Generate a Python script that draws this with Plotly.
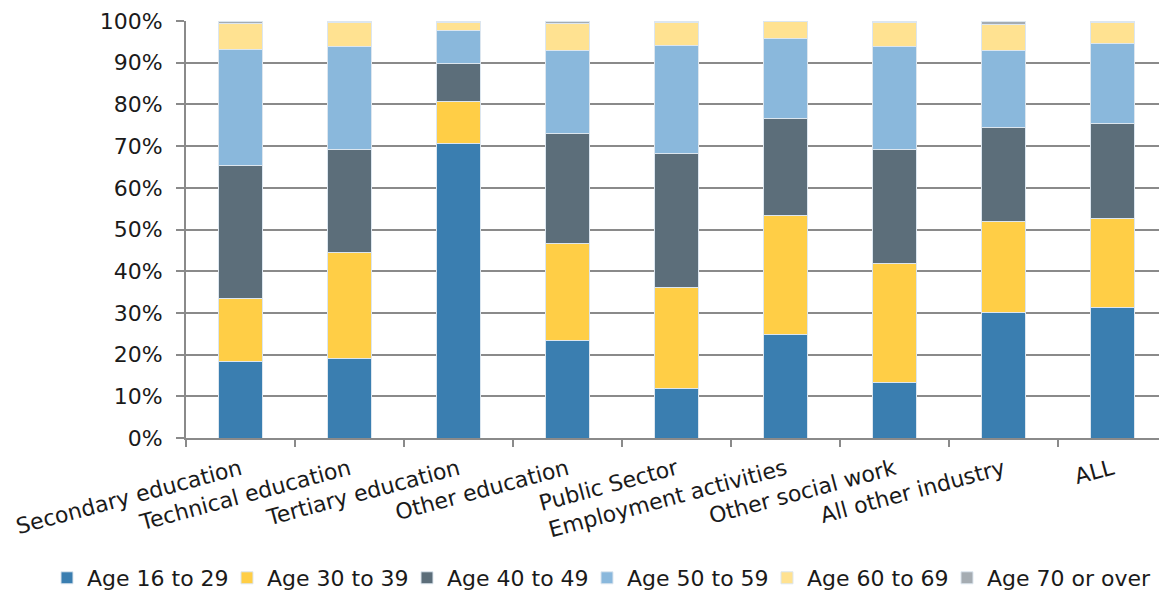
import plotly.graph_objects as go

categories = ["Secondary education", "Technical education", "Tertiary education",
              "Other education", "Public Sector", "Employment activities",
              "Other social work", "All other industry", "ALL"]

age_16_29 = [18.4, 19.0, 70.6, 23.3, 11.8, 24.9, 13.3, 30.1, 31.3]
age_30_39 = [15.1, 25.5, 10.0, 23.3, 24.3, 28.4, 28.5, 21.9, 21.4]
age_40_49 = [31.8, 24.6, 9.2, 26.4, 32.1, 23.3, 27.3, 22.5, 22.8]
age_50_59 = [27.9, 24.8, 7.9, 19.9, 26.0, 19.2, 24.8, 18.4, 19.2]
age_60_69 = [6.2, 5.8, 2.0, 6.5, 5.5, 4.0, 5.8, 6.3, 5.0]
age_70_plus = [0.6, 0.3, 0.3, 0.6, 0.3, 0.2, 0.3, 0.8, 0.3]

series = [
    ("Age 16 to 29", age_16_29, "#3A7EB0"),
    ("Age 30 to 39", age_30_39, "#FFCE46"),
    ("Age 40 to 49", age_40_49, "#5C6E7A"),
    ("Age 50 to 59", age_50_59, "#8AB8DC"),
    ("Age 60 to 69", age_60_69, "#FFE291"),
    ("Age 70 or over", age_70_plus, "#A5ACB2"),
]

fig = go.Figure()
for i, (name, vals, color) in enumerate(series):
    fig.add_trace(go.Bar(
        name=name, x=categories, y=vals,
        marker=dict(color=color, line=dict(color="#DCE6EF", width=1)),
        legendwidth=175 if i == len(series) - 1 else 135,
    ))

grid = "#8A8A8A"
fig.update_layout(
    barmode="stack",
    bargap=0.6,
    width=1159, height=586,
    margin=dict(l=178, r=0, t=13, b=156, autoexpand=False),
    paper_bgcolor="white", plot_bgcolor="white",
    font=dict(family="DejaVu Sans, sans-serif", size=22, color="#1A1A1A"),
    legend=dict(orientation="h", xref="paper", x=-0.1417, xanchor="left",
                yref="paper", y=-0.3357, yanchor="middle",
                font=dict(size=22), itemwidth=30, traceorder="normal",
                entrywidthmode="pixels", tracegroupgap=0),
    showlegend=True,
)
fig.update_yaxes(
    range=[0, 100], dtick=10, ticksuffix="%", automargin=False,
    showgrid=True, gridcolor=grid, gridwidth=2,
    showline=True, linecolor=grid, linewidth=2,
    ticks="outside", ticklen=8, tickcolor=grid, tickwidth=2,
    ticklabelstandoff=9,
    zeroline=False,
)
fig.update_xaxes(
    tickangle=-15, tickson="boundaries", automargin=False,
    showline=True, linecolor=grid, linewidth=2,
    ticks="outside", ticklen=7, tickcolor=grid, tickwidth=2,
    ticklabelstandoff=8,
    showgrid=False,
)

fig.write_html("out.html")
